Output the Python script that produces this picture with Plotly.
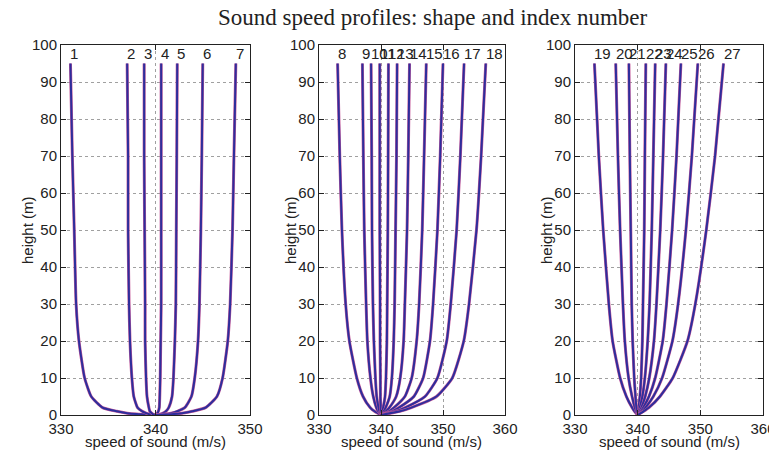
import plotly.graph_objects as go

# ---------------- data ----------------
heights_p1 = [0, 0.25, 0.5, 1, 2, 5, 10, 20, 30, 50, 70, 95]
heights_p2 = [0, 1, 2, 5, 10, 20, 30, 50, 70, 95]
heights_p3 = [0, 1, 2, 5, 10, 20, 30, 50, 70, 95]

index_p1 = [1, 2, 3, 4, 5, 6, 7]
speeds_p1 = [
    [340, 338.0, 337.0, 335.9, 334.4, 333.2, 332.5, 331.9, 331.6, 331.4, 331.2, 331.0],
    [340, 339.3, 339.0, 338.6, 338.1, 337.7, 337.5, 337.3, 337.2, 337.1, 337.1, 337.0],
    [340, 339.7, 339.6, 339.4, 339.3, 339.1, 339.0, 338.9, 338.9, 338.85, 338.8, 338.8],
    [340, 340.1, 340.2, 340.3, 340.4, 340.45, 340.5, 340.55, 340.6, 340.6, 340.6, 340.6],
    [340, 340.5, 340.8, 341.1, 341.4, 341.75, 341.9, 342.05, 342.15, 342.2, 342.25, 342.3],
    [340, 341.1, 341.65, 342.3, 343.1, 343.8, 344.15, 344.5, 344.65, 344.8, 344.9, 345.0],
    [340, 341.9, 342.8, 343.9, 345.3, 346.5, 347.1, 347.65, 347.9, 348.15, 348.3, 348.5],
]

index_p2 = [8, 9, 10, 11, 12, 13, 14, 15, 16, 17, 18]
speeds_p2 = [
    [340, 338.95, 338.25, 337.1, 336.1, 334.9, 334.3, 333.7, 333.35, 333.0],
    [340, 339.55, 339.25, 338.75, 338.3, 337.8, 337.6, 337.3, 337.15, 337.0],
    [340, 339.75, 339.6, 339.3, 339.1, 338.85, 338.7, 338.55, 338.5, 338.4],
    [340, 339.97, 339.95, 339.9, 339.9, 339.85, 339.85, 339.8, 339.8, 339.8],
    [340, 340.2, 340.35, 340.65, 340.8, 340.95, 341.0, 341.1, 341.15, 341.2],
    [340, 340.45, 340.75, 341.4, 341.75, 342.05, 342.2, 342.35, 342.5, 342.6],
    [340, 340.8, 341.35, 342.45, 343.1, 343.65, 343.85, 344.2, 344.4, 344.6],
    [340, 341.3, 342.1, 343.85, 344.95, 345.75, 346.15, 346.65, 346.95, 347.3],
    [340, 341.8, 342.9, 345.3, 346.8, 347.9, 348.4, 349.1, 349.55, 350.0],
    [340, 342.4, 343.9, 347.1, 349.1, 350.6, 351.25, 352.2, 352.8, 353.4],
    [340, 343.05, 344.9, 348.95, 351.5, 353.35, 354.2, 355.4, 356.15, 356.9],
]

index_p3 = [19, 20, 21, 22, 23, 24, 25, 26, 27]
speeds_p3 = [
    [340, 339.5, 339.1, 338.2, 337.2, 336.0, 335.4, 334.5, 333.8, 333.1],
    [340, 339.75, 339.55, 339.1, 338.55, 337.95, 337.65, 337.2, 336.85, 336.5],
    [340, 339.9, 339.8, 339.65, 339.45, 339.2, 339.05, 338.9, 338.75, 338.6],
    [340, 340.1, 340.15, 340.35, 340.55, 340.75, 340.85, 341.05, 341.15, 341.3],
    [340, 340.2, 340.35, 340.75, 341.15, 341.6, 341.9, 342.25, 342.5, 342.8],
    [340, 340.3, 340.6, 341.2, 341.85, 342.6, 343.0, 343.6, 344.05, 344.5],
    [340, 340.5, 340.9, 341.8, 342.8, 344.0, 344.6, 345.5, 346.2, 346.9],
    [340, 340.7, 341.25, 342.5, 343.9, 345.55, 346.45, 347.7, 348.65, 349.6],
    [340, 340.95, 341.8, 343.55, 345.6, 347.95, 349.2, 350.95, 352.35, 353.7],
]

x_ticks_p1 = [330, 340, 350]
x_ticks_p23 = [330, 340, 350, 360]
y_ticks = [0, 10, 20, 30, 40, 50, 60, 70, 80, 90, 100]
label_height = 97.6

title_text = "Sound speed profiles: shape and index number"
x_title = "speed of sound (m/s)"
y_title = "height (m)"

# ---------------- figure ----------------
# The page body has an 8px margin; lay out in page pixels and convert.
OFF = 8
W, H = 777 - OFF, 454 - OFF


def px_x(p):
    return (p - OFF) / W


def px_y(p):
    return 1 - (p - OFF) / H


fig = go.Figure()

panels = [
    (heights_p1, speeds_p1, index_p1, "x", "y", [330, 350], x_ticks_p1),
    (heights_p2, speeds_p2, index_p2, "x2", "y2", [330, 360], x_ticks_p23),
    (heights_p3, speeds_p3, index_p3, "x3", "y3", [330, 360], x_ticks_p23),
]

font_sans = "Liberation Sans, Arial"
annotations = []
for hts, sp_list, idx_list, xa, ya, rng, ticks in panels:
    for sp, idx in zip(sp_list, idx_list):
        fig.add_trace(go.Scatter(x=sp, y=hts, mode="lines", xaxis=xa, yaxis=ya,
                                 line=dict(color="#c45a9a", width=3.0, shape="spline", smoothing=0.5),
                                 showlegend=False, hoverinfo="skip"))
        fig.add_trace(go.Scatter(x=sp, y=hts, mode="lines", xaxis=xa, yaxis=ya,
                                 line=dict(color="#2e2e9c", width=2.0, shape="spline", smoothing=0.5),
                                 showlegend=False))
        annotations.append(dict(x=sp[-1], y=label_height, xref=xa, yref=ya,
                                text=str(idx), showarrow=False, xanchor="left",
                                yanchor="middle", xshift=-2,
                                font=dict(family=font_sans, size=15, color="#222")))

panel_px = [(61, 250), (319, 505), (575, 763)]
ylabel_px = [27, 290, 546]
top_px, bottom_px = 45, 415
domains_x = [[px_x(a), px_x(b)] for a, b in panel_px]
y_dom = [px_y(bottom_px), px_y(top_px)]

axis_common = dict(showline=True, linecolor="#222", linewidth=1, mirror="ticks",
                   ticks="inside", ticklen=5, tickcolor="#222", automargin=False,
                   showgrid=True, gridcolor="#a0a0a0", griddash="dot", gridwidth=1,
                   zeroline=False,
                   tickfont=dict(family=font_sans, size=15, color="#222"))

layout_axes = {}
names = [("xaxis", "yaxis"), ("xaxis2", "yaxis2"), ("xaxis3", "yaxis3")]
for i, ((xn, yn), p) in enumerate(zip(names, panels)):
    xa_ref = "x" if i == 0 else f"x{i+1}"
    ya_ref = "y" if i == 0 else f"y{i+1}"
    layout_axes[xn] = dict(axis_common, domain=domains_x[i], range=p[5], tickvals=p[6],
                           anchor=ya_ref)
    layout_axes[yn] = dict(axis_common, domain=y_dom, range=[0, 100], tickvals=y_ticks,
                           anchor=xa_ref)
    a, b = panel_px[i]
    annotations.append(dict(text=x_title, x=px_x((a + b) / 2), y=px_y(441),
                            xref="paper", yref="paper", showarrow=False,
                            xanchor="center", yanchor="middle",
                            font=dict(family=font_sans, size=15, color="#222")))
    annotations.append(dict(text=y_title, x=px_x(ylabel_px[i]), y=px_y((top_px + bottom_px) / 2),
                            xref="paper", yref="paper", showarrow=False, textangle=-90,
                            xanchor="center", yanchor="middle",
                            font=dict(family=font_sans, size=15, color="#222")))

annotations.append(dict(text=title_text, x=px_x(433), y=px_y(18), xref="paper", yref="paper",
                        showarrow=False, xanchor="center", yanchor="middle",
                        font=dict(family="Liberation Serif, Times New Roman, serif", size=23, color="#222")))

fig.update_layout(width=W, height=H, margin=dict(l=0, r=0, t=0, b=0),
                  paper_bgcolor="white", plot_bgcolor="white",
                  annotations=annotations, **layout_axes)

fig.write_html("out.html")
